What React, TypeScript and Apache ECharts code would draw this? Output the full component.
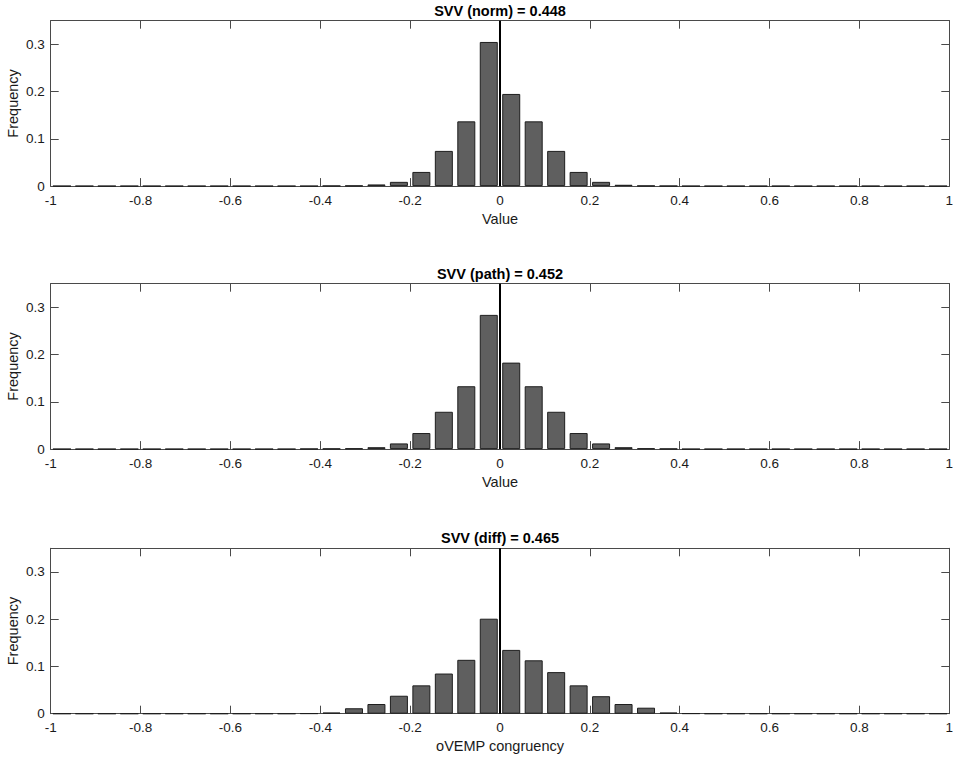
import React, { useEffect, useRef } from "react";
import * as echarts from "echarts";

const binCenters = [
  -0.975, -0.925, -0.875, -0.825, -0.775, -0.725, -0.675, -0.625, -0.575, -0.525,
  -0.475, -0.425, -0.375, -0.325, -0.275, -0.225, -0.175, -0.125, -0.075, -0.025,
  0.025, 0.075, 0.125, 0.175, 0.225, 0.275, 0.325, 0.375, 0.425, 0.475,
  0.525, 0.575, 0.625, 0.675, 0.725, 0.775, 0.825, 0.875, 0.925, 0.975,
];

const normFreq = [
  0, 0, 0, 0, 0, 0, 0, 0, 0, 0,
  0, 0, 0.0005, 0.001, 0.0035, 0.009, 0.03, 0.0745, 0.137, 0.305,
  0.195, 0.137, 0.0745, 0.03, 0.009, 0.0028, 0.0008, 0.0003, 0, 0,
  0, 0, 0, 0, 0, 0, 0, 0, 0, 0,
];

const pathFreq = [
  0, 0, 0, 0, 0, 0, 0, 0, 0, 0,
  0, 0.0005, 0.001, 0.0015, 0.004, 0.012, 0.034, 0.079, 0.133, 0.284,
  0.183, 0.133, 0.079, 0.034, 0.012, 0.004, 0.0015, 0.0008, 0, 0,
  0, 0, 0, 0, 0, 0, 0, 0, 0, 0,
];

const diffFreq = [
  0, 0, 0, 0, 0, 0, 0, 0, 0, 0,
  0, 0.0005, 0.0025, 0.0115, 0.0205, 0.038, 0.06, 0.085, 0.114, 0.201,
  0.135, 0.113, 0.088, 0.06, 0.037, 0.0205, 0.0127, 0.0025, 0.0005, 0,
  0, 0, 0, 0, 0, 0, 0, 0, 0, 0,
];

const panelTitles = ["SVV (norm) = 0.448", "SVV (path) = 0.452", "SVV (diff) = 0.465"];
const xAxisNames = ["Value", "Value", "oVEMP congruency"];
const yAxisName = "Frequency";
const panelData = [normFreq, pathFreq, diffFreq];

const FONT = "'Liberation Sans', Arial, Helvetica, sans-serif";
const AXIS_COLOR = "#4a4a4a";
const TEXT_COLOR = "#1a1a1a";

export default function App() {
  const ref = useRef<HTMLDivElement>(null);

  useEffect(() => {
    if (!ref.current) return;
    const chart = echarts.init(ref.current, undefined, { renderer: "svg" });

    const gridTops = [20.7, 283.7, 548.3];
    const gridHeight = 165.4;
    const gridLeft = 50.7;
    const gridRight = 7.7;

    const grids = gridTops.map((t) => ({
      left: gridLeft,
      right: gridRight,
      top: t,
      height: gridHeight,
      containLabel: false,
      outerBoundsMode: "none",
    }));

    const xAxes: any[] = [];
    const yAxes: any[] = [];
    const series: any[] = [];

    gridTops.forEach((_, i) => {
      xAxes.push({
        type: "value",
        gridIndex: i,
        position: "bottom",
        min: -1,
        max: 1,
        interval: 0.2,
        name: xAxisNames[i],
        nameLocation: "middle",
        nameGap: 25,
        nameMoveOverlap: false,
        nameTextStyle: { fontFamily: FONT, fontSize: 14.5, color: TEXT_COLOR },
        axisLine: { show: true, onZero: false, lineStyle: { color: AXIS_COLOR, width: 1 } },
        axisTick: { show: true, inside: true, length: 8, lineStyle: { color: AXIS_COLOR } },
        axisLabel: { fontFamily: FONT, fontSize: 13.5, color: TEXT_COLOR, margin: 7 },
        splitLine: { show: false },
      });
      xAxes.push({
        type: "value",
        gridIndex: i,
        position: "top",
        min: -1,
        max: 1,
        interval: 0.2,
        axisLine: { show: true, onZero: false, lineStyle: { color: AXIS_COLOR, width: 1 } },
        axisTick: { show: true, inside: true, length: 8, lineStyle: { color: AXIS_COLOR } },
        axisLabel: { show: false },
        splitLine: { show: false },
      });
      yAxes.push({
        type: "value",
        gridIndex: i,
        position: "left",
        min: 0,
        max: 0.35,
        interval: 0.1,
        name: yAxisName,
        nameLocation: "middle",
        nameGap: 30,
        nameMoveOverlap: false,
        nameTextStyle: { fontFamily: FONT, fontSize: 14.5, color: TEXT_COLOR },
        axisLine: { show: true, onZero: false, lineStyle: { color: AXIS_COLOR, width: 1 } },
        axisTick: { show: true, inside: true, length: 8, lineStyle: { color: AXIS_COLOR } },
        axisLabel: { fontFamily: FONT, fontSize: 13.5, color: TEXT_COLOR, margin: 6, showMaxLabel: false },
        splitLine: { show: false },
      });
      yAxes.push({
        type: "value",
        gridIndex: i,
        position: "right",
        min: 0,
        max: 0.35,
        interval: 0.1,
        axisLine: { show: true, onZero: false, lineStyle: { color: AXIS_COLOR, width: 1 } },
        axisTick: { show: true, inside: true, length: 8, lineStyle: { color: AXIS_COLOR } },
        axisLabel: { show: false },
        splitLine: { show: false },
      });

      series.push({
        type: "bar",
        xAxisIndex: i * 2,
        yAxisIndex: i * 2,
        barWidth: 18,
        data: binCenters.map((c, k) => [c, panelData[i][k]]),
        itemStyle: { color: "#5f5f5f", borderColor: "#1e1e1e", borderWidth: 1 },
        silent: true,
        markLine: {
          silent: true,
          symbol: "none",
          label: { show: false },
          lineStyle: { color: "#000", width: 2, type: "solid" },
          data: [{ xAxis: 0 }],
        },
      });
    });

    const titles = gridTops.map((t, i) => ({
      text: panelTitles[i],
      left: gridLeft + (957 - gridLeft - gridRight) / 2,
      top: t - 17.5,
      textAlign: "center",
      padding: 0,
      textStyle: { fontFamily: FONT, fontSize: 14.5, fontWeight: "bold", color: "#000" },
    }));

    chart.setOption({
      animation: false,
      backgroundColor: "#ffffff",
      title: titles,
      grid: grids,
      xAxis: xAxes,
      yAxis: yAxes,
      series,
    });

    return () => chart.dispose();
  }, []);

  return (
    <div
      ref={ref}
      style={{ position: "fixed", left: 0, top: 0, width: 957, height: 767, background: "#fff" }}
    />
  );
}
